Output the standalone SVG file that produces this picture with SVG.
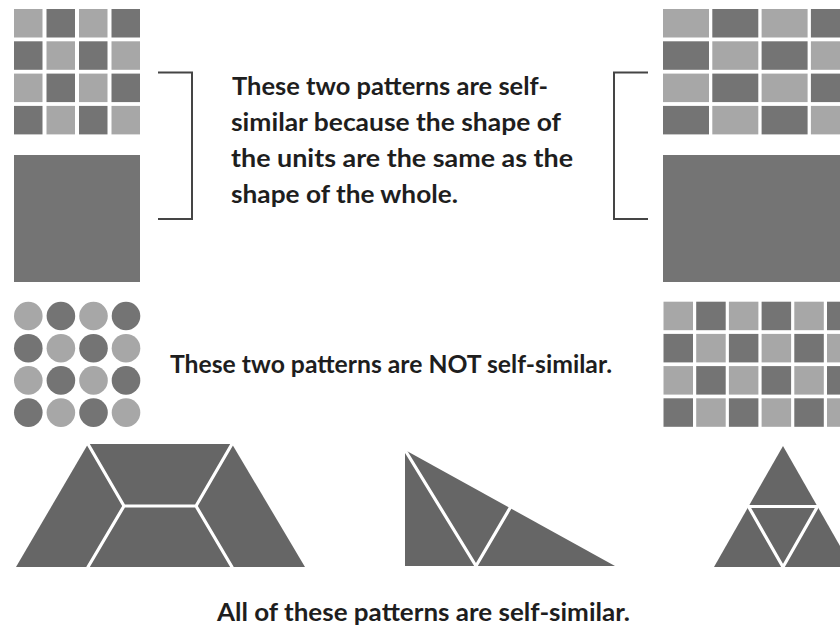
<svg xmlns="http://www.w3.org/2000/svg" width="840" height="629" viewBox="0 0 840 629">
  <style>
    .lt { fill: #a7a7a7; }
    .dk { fill: #747474; }
    .shape { fill: #666666; }
    .cut { fill: none; stroke: #ffffff; stroke-width: 3.2; stroke-linejoin: round; stroke-linecap: round; }
    .brk { fill: none; stroke: #454545; stroke-width: 2; }
    .txt { font-family: "Lato", "Liberation Sans", sans-serif; font-weight: bold; font-size: 25px; fill: #1e1e1e; }
  </style>
  <rect width="840" height="629" fill="#ffffff"/>

  <g id="grid-square-4x4">
    <rect class="lt" x="14" y="9" width="28.5" height="28.5"/>
    <rect class="dk" x="46.5" y="9" width="28.5" height="28.5"/>
    <rect class="lt" x="79" y="9" width="28.5" height="28.5"/>
    <rect class="dk" x="111.5" y="9" width="28.5" height="28.5"/>
    <rect class="dk" x="14" y="41.3" width="28.5" height="28.5"/>
    <rect class="lt" x="46.5" y="41.3" width="28.5" height="28.5"/>
    <rect class="dk" x="79" y="41.3" width="28.5" height="28.5"/>
    <rect class="lt" x="111.5" y="41.3" width="28.5" height="28.5"/>
    <rect class="lt" x="14" y="73.6" width="28.5" height="28.5"/>
    <rect class="dk" x="46.5" y="73.6" width="28.5" height="28.5"/>
    <rect class="lt" x="79" y="73.6" width="28.5" height="28.5"/>
    <rect class="dk" x="111.5" y="73.6" width="28.5" height="28.5"/>
    <rect class="dk" x="14" y="105.9" width="28.5" height="28.5"/>
    <rect class="lt" x="46.5" y="105.9" width="28.5" height="28.5"/>
    <rect class="dk" x="79" y="105.9" width="28.5" height="28.5"/>
    <rect class="lt" x="111.5" y="105.9" width="28.5" height="28.5"/>
  </g>

  <g id="whole-square">
    <rect class="dk" x="14" y="155" width="126" height="127"/>
  </g>

  <g id="grid-rect-4x4">
    <rect class="lt" x="663" y="9" width="46" height="28.5"/>
    <rect class="dk" x="712.3" y="9" width="46" height="28.5"/>
    <rect class="lt" x="761.6" y="9" width="46" height="28.5"/>
    <rect class="dk" x="810.9" y="9" width="46" height="28.5"/>
    <rect class="dk" x="663" y="41.3" width="46" height="28.5"/>
    <rect class="lt" x="712.3" y="41.3" width="46" height="28.5"/>
    <rect class="dk" x="761.6" y="41.3" width="46" height="28.5"/>
    <rect class="lt" x="810.9" y="41.3" width="46" height="28.5"/>
    <rect class="lt" x="663" y="73.6" width="46" height="28.5"/>
    <rect class="dk" x="712.3" y="73.6" width="46" height="28.5"/>
    <rect class="lt" x="761.6" y="73.6" width="46" height="28.5"/>
    <rect class="dk" x="810.9" y="73.6" width="46" height="28.5"/>
    <rect class="dk" x="663" y="105.9" width="46" height="28.5"/>
    <rect class="lt" x="712.3" y="105.9" width="46" height="28.5"/>
    <rect class="dk" x="761.6" y="105.9" width="46" height="28.5"/>
    <rect class="lt" x="810.9" y="105.9" width="46" height="28.5"/>
  </g>

  <g id="whole-rect">
    <rect class="dk" x="663" y="155" width="190" height="127"/>
  </g>

  <g id="label-self-similar">
    <text class="txt" x="232" y="95" textLength="316" lengthAdjust="spacingAndGlyphs">These two patterns are self-</text>
    <text class="txt" x="231" y="131" textLength="330" lengthAdjust="spacingAndGlyphs">similar because the shape of</text>
    <text class="txt" x="231" y="167" textLength="342" lengthAdjust="spacingAndGlyphs">the units are the same as the</text>
    <text class="txt" x="231" y="203" textLength="227" lengthAdjust="spacingAndGlyphs">shape of the whole.</text>
  </g>

  <g id="grid-circles">
    <circle class="lt" cx="28.3" cy="316" r="14.3"/>
    <circle class="dk" cx="60.9" cy="316" r="14.3"/>
    <circle class="lt" cx="93.5" cy="316" r="14.3"/>
    <circle class="dk" cx="126" cy="316" r="14.3"/>
    <circle class="dk" cx="28.3" cy="348.2" r="14.3"/>
    <circle class="lt" cx="60.9" cy="348.2" r="14.3"/>
    <circle class="dk" cx="93.5" cy="348.2" r="14.3"/>
    <circle class="lt" cx="126" cy="348.2" r="14.3"/>
    <circle class="lt" cx="28.3" cy="380.4" r="14.3"/>
    <circle class="dk" cx="60.9" cy="380.4" r="14.3"/>
    <circle class="lt" cx="93.5" cy="380.4" r="14.3"/>
    <circle class="dk" cx="126" cy="380.4" r="14.3"/>
    <circle class="dk" cx="28.3" cy="412.6" r="14.3"/>
    <circle class="lt" cx="60.9" cy="412.6" r="14.3"/>
    <circle class="dk" cx="93.5" cy="412.6" r="14.3"/>
    <circle class="lt" cx="126" cy="412.6" r="14.3"/>
  </g>

  <g id="label-not-self-similar">
    <text class="txt" x="170" y="373" textLength="442" lengthAdjust="spacingAndGlyphs">These two patterns are NOT self-similar.</text>
  </g>

  <g id="grid-squares-6x4">
    <rect class="lt" x="663.5" y="301.7" width="29.5" height="28.5"/>
    <rect class="dk" x="696.2" y="301.7" width="29.5" height="28.5"/>
    <rect class="lt" x="728.9" y="301.7" width="29.5" height="28.5"/>
    <rect class="dk" x="761.6" y="301.7" width="29.5" height="28.5"/>
    <rect class="lt" x="794.3" y="301.7" width="29.5" height="28.5"/>
    <rect class="dk" x="827" y="301.7" width="29.5" height="28.5"/>
    <rect class="dk" x="663.5" y="333.9" width="29.5" height="28.5"/>
    <rect class="lt" x="696.2" y="333.9" width="29.5" height="28.5"/>
    <rect class="dk" x="728.9" y="333.9" width="29.5" height="28.5"/>
    <rect class="lt" x="761.6" y="333.9" width="29.5" height="28.5"/>
    <rect class="dk" x="794.3" y="333.9" width="29.5" height="28.5"/>
    <rect class="lt" x="827" y="333.9" width="29.5" height="28.5"/>
    <rect class="lt" x="663.5" y="366.1" width="29.5" height="28.5"/>
    <rect class="dk" x="696.2" y="366.1" width="29.5" height="28.5"/>
    <rect class="lt" x="728.9" y="366.1" width="29.5" height="28.5"/>
    <rect class="dk" x="761.6" y="366.1" width="29.5" height="28.5"/>
    <rect class="lt" x="794.3" y="366.1" width="29.5" height="28.5"/>
    <rect class="dk" x="827" y="366.1" width="29.5" height="28.5"/>
    <rect class="dk" x="663.5" y="398.3" width="29.5" height="28.5"/>
    <rect class="lt" x="696.2" y="398.3" width="29.5" height="28.5"/>
    <rect class="dk" x="728.9" y="398.3" width="29.5" height="28.5"/>
    <rect class="lt" x="761.6" y="398.3" width="29.5" height="28.5"/>
    <rect class="dk" x="794.3" y="398.3" width="29.5" height="28.5"/>
    <rect class="lt" x="827" y="398.3" width="29.5" height="28.5"/>
  </g>

  <g id="trapezoid">
    <polygon class="shape" points="16,567 88,444 232,444 305,567"/>
    <path class="cut" d="M88,444 L124,506 L196,506 L232,444 M88,567 L124,506 M232,567 L196,506"/>
  </g>

  <g id="right-triangle">
    <polygon class="shape" points="405,450 405,566 615,566"/>
    <path class="cut" d="M405,450 L476,566 L510,508"/>
  </g>

  <g id="triangle-of-four">
    <polygon class="shape" points="783,446 714,567 852,567"/>
    <path class="cut" d="M748.5,506.5 H817.5 M748.5,506.5 L783,567 L817.5,506.5"/>
  </g>

  <g id="label-all-self-similar">
    <text class="txt" x="217" y="621" textLength="413" lengthAdjust="spacingAndGlyphs">All of these patterns are self-similar.</text>
  </g>

  <g id="connectors">
    <path class="brk" d="M158,72.5 H192 V219 H158"/>
    <path class="brk" d="M648,72.5 H614 V219 H648"/>
  </g>
</svg>
